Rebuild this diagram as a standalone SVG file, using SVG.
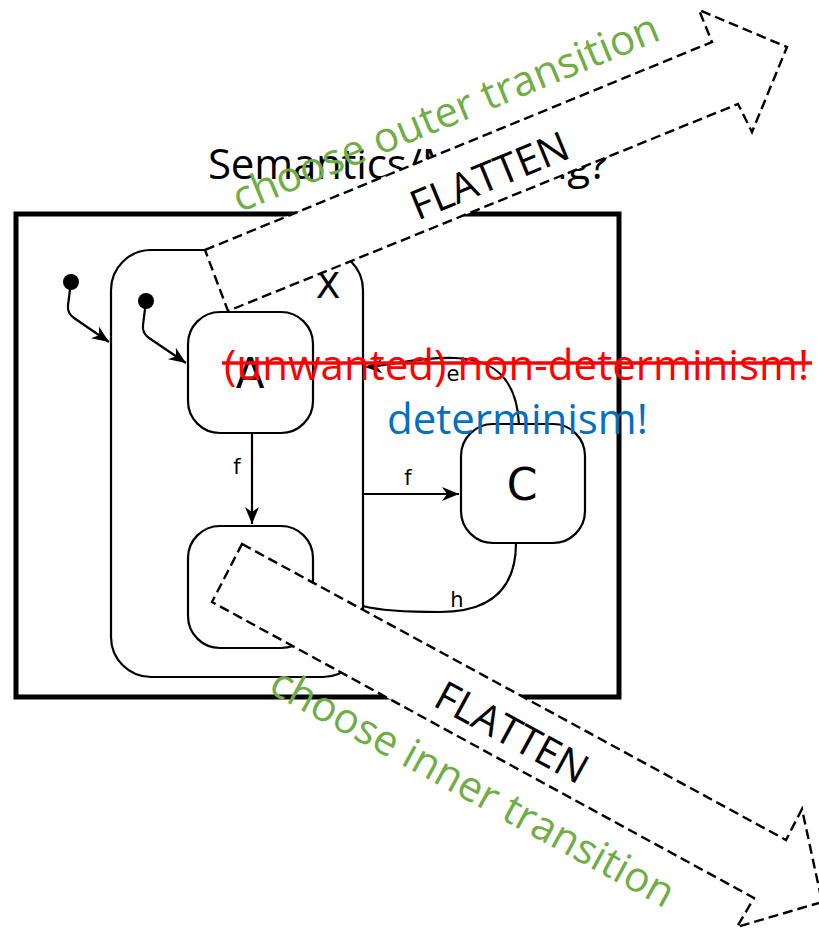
<svg xmlns="http://www.w3.org/2000/svg" width="819" height="933" viewBox="0 0 819 933">
<style>
.st{fill:#fff;stroke:#000;stroke-width:2.2}
.tr{fill:none;stroke:#000;stroke-width:2.2}
.lbl{font-family:"DejaVu Sans",sans-serif;fill:#000}
.sm{font-size:21px;text-anchor:middle}
.big{text-anchor:middle}
.arr{fill:#fff;stroke:#000;stroke-width:2.4;stroke-dasharray:10,5}
.os{font-family:"Open Sans","Liberation Sans",sans-serif}
.green{fill:#70AD47;font-size:42px}
.flat{fill:#000;font-size:41px;text-anchor:middle}
</style>
<defs>
<marker id="ah" viewBox="-18 -9 20 18" refX="0" refY="0" markerWidth="20" markerHeight="18" markerUnits="userSpaceOnUse" orient="auto">
<path d="M0,0 L-17,-7 L-12,0 L-17,7 Z" fill="#000"/>
</marker>
</defs>

<g id="frame">
<rect x="16" y="214" width="603" height="483" fill="none" stroke="#000" stroke-width="5"/>
</g>

<g id="state-X">
<rect class="st" x="111" y="250" width="252" height="427" rx="40" ry="40"/>
<text class="lbl big" x="328" y="298" font-size="36">X</text>
</g>
<g id="state-A">
<rect class="st" x="188" y="312" width="125" height="121" rx="32" ry="32"/>
<text class="lbl big" x="250" y="388" font-size="42">A</text>
</g>
<g id="state-B">
<rect class="st" x="188" y="526" width="125" height="122" rx="32" ry="32"/>
</g>
<g id="state-C">
<rect class="st" x="461" y="424" width="124" height="119" rx="32" ry="32"/>
<text class="lbl big" x="522" y="500" font-size="44">C</text>
</g>
<g id="init1">
<circle cx="71" cy="282" r="8" fill="#000"/>
</g>
<g id="init2">
<circle cx="146" cy="301" r="8" fill="#000"/>
</g>

<g id="connectors">
<path class="tr" d="M71,282 L68,305 Q67,313 74,318 L109,342" marker-end="url(#ah)"/>
<path class="tr" d="M146,301 L143,325 Q142,333 149,338 L186,363" marker-end="url(#ah)"/>
<path class="tr" d="M252,433 L252,524" marker-end="url(#ah)"/>
<path class="tr" d="M363,494 L459,494" marker-end="url(#ah)"/>
<path class="tr" d="M519,424 C517,385 500,359 455,358 C415,357 390,366 365,367" marker-end="url(#ah)"/>
<path class="tr" d="M516,543 C516,585 495,612 440,612 C405,612 378,610 363,606"/>
<text class="lbl sm" x="237" y="474">f</text>
<text class="lbl sm" x="408" y="485">f</text>
<text class="lbl sm" x="453" y="381">e</text>
<text class="lbl sm" x="457" y="607">h</text>
</g>

<g id="title">
<text class="os" x="208" y="179" font-size="42" textLength="400" fill="#000">Semantics/Meaning?</text>
</g>

<g id="notes">
<text class="os" x="224" y="380" font-size="42" textLength="585" fill="#FF0000">(unwanted) non-determinism!</text>
<line x1="222" y1="363" x2="812" y2="363" stroke="#FF0000" stroke-width="3.5"/>
<text class="os" x="387" y="434" font-size="42" fill="#0070C0">determinism!</text>
</g>

<g id="flatten-outer">
<polygon class="arr" points="205,250 712,42 699,10 787,47 752,132 738,104 228,311"/>
<text class="os flat" transform="translate(495,189) rotate(-22.3)">FLATTEN</text>
<text class="os green" text-anchor="middle" transform="translate(451,126) rotate(-22.3)">choose outer transition</text>
</g>

<g id="flatten-inner">
<polygon class="arr" points="242,544 786,840 802,809 822,902 737,927 754,898 212,602"/>
<text class="os flat" transform="translate(505,745) rotate(28.6)">FLATTEN</text>
<text class="os green" text-anchor="middle" transform="translate(466,800) rotate(28.6)">choose inner transition</text>
</g>
</svg>
